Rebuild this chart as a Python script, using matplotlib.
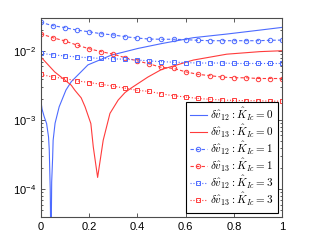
import numpy as np
import matplotlib
matplotlib.use("Agg")
from matplotlib import pyplot as plt

plt.rcParams['mathtext.fontset'] = 'cm'
plt.rcParams['font.family'] = ['Liberation Sans', 'DejaVu Sans']

# sample points with markers (every 0.05)
x_mark = [0.0, 0.05, 0.1, 0.15, 0.2, 0.25, 0.3, 0.35, 0.4, 0.45, 0.5,
          0.55, 0.6, 0.65, 0.7, 0.75, 0.8, 0.85, 0.9, 0.95, 1.0]
v12_k1 = [0.0261, 0.0233, 0.0218, 0.0201, 0.0190, 0.0178, 0.0171, 0.0161, 0.0154, 0.0149, 0.0148,
          0.0148, 0.0146, 0.0143, 0.0141, 0.0141, 0.0141, 0.0141, 0.0141, 0.0143, 0.0144]
v13_k1 = [0.0178, 0.0156, 0.0140, 0.0122, 0.0108, 0.0098, 0.0090, 0.0080, 0.0072, 0.0065, 0.0058,
          0.0056, 0.0050, 0.0046, 0.0044, 0.0042, 0.0041, 0.0041, 0.0040, 0.0040, 0.0040]
v12_k3 = [0.0093, 0.0088, 0.0085, 0.0082, 0.0080, 0.0078, 0.0077, 0.0076, 0.0074, 0.0072, 0.0070,
          0.0069, 0.0068, 0.0067, 0.0067, 0.0067, 0.0066, 0.0066, 0.0066, 0.0066, 0.0066]
v13_k3 = [0.0046, 0.0042, 0.0040, 0.0037, 0.0035, 0.0033, 0.0031, 0.0029, 0.0027, 0.0026, 0.0024,
          0.00225, 0.00216, 0.00206, 0.0020, 0.00195, 0.00193, 0.00191, 0.00191, 0.00188, 0.00188]

# K=0 curves (denser near the dips)
x_v12_k0 = [0.0, 0.006, 0.015, 0.025, 0.033, 0.036, 0.038, 0.040, 0.043, 0.046, 0.050, 0.052,
            0.060, 0.077, 0.105, 0.127, 0.196, 0.292, 0.403, 0.5, 0.632, 0.77, 0.908, 1.0]
v12_k0 = [2.06e-3, 1.45e-3, 1.12e-3, 8.9e-4, 5.7e-4, 3.7e-4, 1.9e-4, 1.0e-4, 1.0e-5, 1.27e-4, 2.9e-4, 5.1e-4,
          9.0e-4, 1.56e-3, 2.72e-3, 3.6e-3, 6.3e-3, 8.7e-3, 1.09e-2, 1.28e-2, 1.56e-2, 1.76e-2, 2.01e-2, 2.2e-2]
x_v13_k0 = [0.0, 0.058, 0.127, 0.142, 0.168, 0.184, 0.208, 0.218, 0.236, 0.259, 0.287, 0.321,
            0.349, 0.374, 0.444, 0.5, 0.632, 0.77, 0.908, 1.0]
v13_k0 = [8.3e-3, 5.0e-3, 3.2e-3, 2.7e-3, 2.1e-3, 1.56e-3, 8.9e-4, 4.1e-4, 1.48e-4, 5.1e-4, 1.25e-3, 1.95e-3,
          2.5e-3, 2.9e-3, 4.2e-3, 5.4e-3, 7.4e-3, 9.0e-3, 9.8e-3, 1.01e-2]

blue = '#4d6bff'
red = '#ff3b3b'

fig = plt.figure(figsize=(3.12, 2.44), dpi=100)
ax = fig.add_axes([0.13, 0.112, 0.775, 0.814])

ax.plot(x_v12_k0, v12_k0, '-', color=blue, lw=0.8, label=r'$\delta\hat{v}_{12}:\hat{K}_{Ic}=0$')
ax.plot(x_v13_k0, v13_k0, '-', color=red, lw=0.8, label=r'$\delta\hat{v}_{13}:\hat{K}_{Ic}=0$')
ax.plot(x_mark, v12_k1, '--', color=blue, lw=0.8, marker='o', ms=3.2, mfc='none', mew=0.7,
        dashes=(3, 2), label=r'$\delta\hat{v}_{12}:\hat{K}_{Ic}=1$')
ax.plot(x_mark, v13_k1, '--', color=red, lw=0.8, marker='o', ms=3.2, mfc='none', mew=0.7,
        dashes=(3, 2), label=r'$\delta\hat{v}_{13}:\hat{K}_{Ic}=1$')
ax.plot(x_mark, v12_k3, ':', color=blue, lw=0.8, marker='s', ms=2.8, mfc='none', mew=0.7,
        label=r'$\delta\hat{v}_{12}:\hat{K}_{Ic}=3$')
ax.plot(x_mark, v13_k3, ':', color=red, lw=0.8, marker='s', ms=2.8, mfc='none', mew=0.7,
        label=r'$\delta\hat{v}_{13}:\hat{K}_{Ic}=3$')

ax.set_yscale('log')
ax.set_xlim(0, 1)
ax.set_ylim(4e-5, 3e-2)
ax.set_xticks([0, 0.2, 0.4, 0.6, 0.8, 1])
ax.set_xticklabels(['0', '0.2', '0.4', '0.6', '0.8', '1'])
ax.tick_params(which='both', direction='in', top=True, right=True, labelsize=8, width=0.6, colors='0.25')
ax.tick_params(which='both', labelcolor='black')
ax.tick_params(which='major', length=3)
ax.tick_params(which='minor', length=1.5)
for s in ax.spines.values():
    s.set_linewidth(0.8)
    s.set_color('0.3')

leg = ax.legend(loc='lower right', bbox_to_anchor=(0.981, 0.02), borderaxespad=0, fontsize=8,
                fancybox=False, framealpha=1, edgecolor='black', handlelength=1.5,
                handletextpad=0.3, labelspacing=0.0, borderpad=0.4)
leg.get_frame().set_linewidth(0.8)

fig.savefig('out.png', dpi=100)
